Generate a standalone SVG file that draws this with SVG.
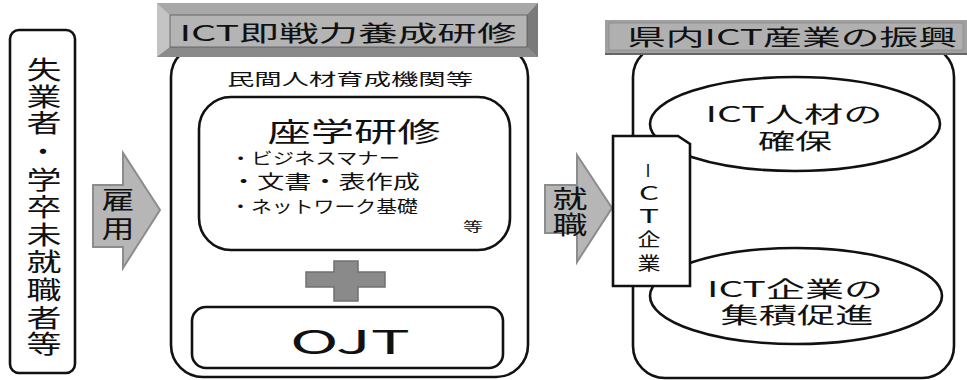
<svg xmlns="http://www.w3.org/2000/svg" width="967" height="380" viewBox="0 0 967 380">
<style>
.t{font-family:"Noto Sans CJK JP","Noto Sans CJK SC","Liberation Sans",sans-serif;fill:#111;text-anchor:middle;dominant-baseline:central}
.box{fill:#fff;stroke:#111;stroke-width:2.6}
.arrow{fill:#b6b6b6;stroke:#8c8c8c;stroke-width:2}
</style>
<rect width="967" height="380" fill="#fff"/>

<g id="node-jobseekers">
<rect class="box" x="10" y="30" width="65" height="343" rx="9"/>
<g font-size="25">
<text class="t" x="44" y="68" textLength="35" lengthAdjust="spacingAndGlyphs">失</text>
<text class="t" x="44" y="95" textLength="35" lengthAdjust="spacingAndGlyphs">業</text>
<text class="t" x="44" y="121" textLength="35" lengthAdjust="spacingAndGlyphs">者</text>
<text class="t" x="43" y="150" textLength="30" lengthAdjust="spacingAndGlyphs">・</text>
<text class="t" x="44" y="178" textLength="35" lengthAdjust="spacingAndGlyphs">学</text>
<text class="t" x="44" y="205" textLength="35" lengthAdjust="spacingAndGlyphs">卒</text>
<text class="t" x="44" y="233" textLength="35" lengthAdjust="spacingAndGlyphs">未</text>
<text class="t" x="44" y="260" textLength="35" lengthAdjust="spacingAndGlyphs">就</text>
<text class="t" x="44" y="288" textLength="35" lengthAdjust="spacingAndGlyphs">職</text>
<text class="t" x="44" y="316" textLength="35" lengthAdjust="spacingAndGlyphs">者</text>
<text class="t" x="44" y="342" textLength="35" lengthAdjust="spacingAndGlyphs">等</text>
</g>
</g>

<g id="connectors">
<g id="arrow-hire">
<polygon class="arrow" points="93,185 123,185 123,153 160,210 123,268 123,247 93,247"/>
<text class="t" x="118" y="198" font-size="25" textLength="33" lengthAdjust="spacingAndGlyphs">雇</text>
<text class="t" x="118" y="227" font-size="25" textLength="33" lengthAdjust="spacingAndGlyphs">用</text>
</g>
<g id="arrow-employ">
<polygon class="arrow" points="545,185 577,185 577,155 612,208 577,262 577,233 545,233"/>
<text class="t" x="570" y="197" font-size="25" textLength="35" lengthAdjust="spacingAndGlyphs">就</text>
<text class="t" x="570" y="223" font-size="25" textLength="35" lengthAdjust="spacingAndGlyphs">職</text>
</g>
</g>

<g id="node-training">
<rect class="box" x="171" y="45" width="357" height="332" rx="32"/>
<g id="title-training">
<rect x="157" y="3" width="381" height="54" fill="#9c9c9c"/>
<polygon points="157,3 538,3 527,15 170,15" fill="#a8a8a8"/>
<polygon points="157,3 170,15 170,47 157,57" fill="#c4c4c4"/>
<polygon points="538,3 538,57 527,47 527,15" fill="#7a7a7a"/>
<polygon points="157,57 170,47 527,47 538,57" fill="#8a8a8a"/>
<rect x="170" y="15" width="357" height="32" fill="#b4b4b4" stroke="#555" stroke-width="0.8"/>
<text class="t" x="348" y="31" font-size="22" textLength="337" lengthAdjust="spacingAndGlyphs">ICT即戦力養成研修</text>
</g>
<text class="t" x="350" y="78" font-size="16" textLength="246" lengthAdjust="spacingAndGlyphs">民間人材育成機関等</text>
<g id="node-classroom">
<rect class="box" x="199" y="97" width="311" height="153" rx="32"/>
<text class="t" x="354" y="130" font-size="27" textLength="173" lengthAdjust="spacingAndGlyphs">座学研修</text>
<text class="t" x="315" y="157" font-size="16" textLength="170" lengthAdjust="spacingAndGlyphs">・ビジネスマナー</text>
<text class="t" x="325" y="180" font-size="19" textLength="190" lengthAdjust="spacingAndGlyphs">・文書・表作成</text>
<text class="t" x="324" y="205" font-size="17" textLength="188" lengthAdjust="spacingAndGlyphs">・ネットワーク基礎</text>
<text class="t" x="473" y="225" font-size="13" textLength="20" lengthAdjust="spacingAndGlyphs">等</text>
</g>
<path d="M334,261 H358 V272 H385 V287 H358 V301 H334 V287 H306 V272 H334 Z" fill="#8a8a8a" stroke="#707070" stroke-width="1.5"/>
<g id="node-ojt">
<rect class="box" x="192" y="307" width="311" height="61" rx="14"/>
<text class="t" x="350" y="340" font-size="33" textLength="120" lengthAdjust="spacingAndGlyphs">OJT</text>
</g>
</g>

<g id="node-industry">
<rect class="box" x="633" y="45" width="321" height="333" rx="32"/>
<g id="title-industry">
<rect x="605" y="20" width="362" height="35" fill="#a0a0a0"/>
<rect x="609" y="23" width="354" height="27" fill="#b0b0b0" stroke="#8a8a8a" stroke-width="0.8"/>
<line x1="605" y1="54" x2="967" y2="54" stroke="#666" stroke-width="2"/>
<text class="t" x="792" y="35" font-size="22" textLength="330" lengthAdjust="spacingAndGlyphs">県内ICT産業の振興</text>
</g>
<g id="node-talent">
<ellipse class="box" cx="795" cy="124" rx="145" ry="47"/>
<text class="t" x="794" y="112" font-size="22" textLength="177" lengthAdjust="spacingAndGlyphs">ICT人材の</text>
<text class="t" x="795" y="139" font-size="22" textLength="74" lengthAdjust="spacingAndGlyphs">確保</text>
</g>
<g id="node-cluster">
<ellipse class="box" cx="796" cy="296" rx="146" ry="48"/>
<text class="t" x="795" y="287" font-size="22" textLength="176" lengthAdjust="spacingAndGlyphs">ICT企業の</text>
<text class="t" x="797" y="313" font-size="22" textLength="153" lengthAdjust="spacingAndGlyphs">集積促進</text>
</g>
<g id="node-company">
<polygon class="box" points="613,136 678,136 690,144 690,286 613,286"/>
<text class="t" x="648" y="169" font-size="17">I</text>
<text class="t" x="649" y="192" font-size="18" textLength="20" lengthAdjust="spacingAndGlyphs">C</text>
<text class="t" x="649" y="215" font-size="18" textLength="20" lengthAdjust="spacingAndGlyphs">T</text>
<text class="t" x="649" y="238" font-size="18" textLength="23" lengthAdjust="spacingAndGlyphs">企</text>
<text class="t" x="649" y="262" font-size="18" textLength="23" lengthAdjust="spacingAndGlyphs">業</text>
</g>
</g>
</svg>
